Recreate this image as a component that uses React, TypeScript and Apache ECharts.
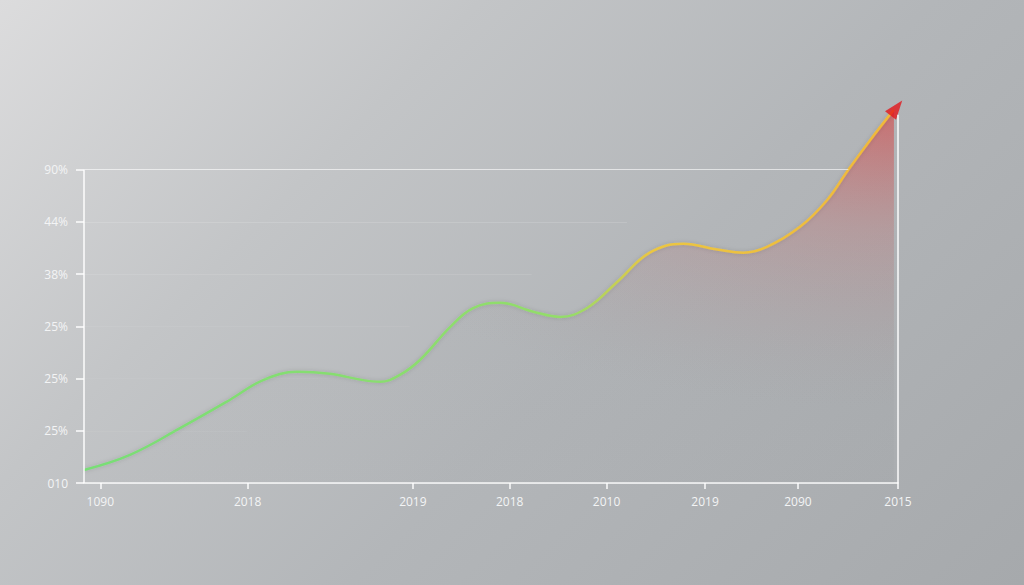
import * as echarts from 'echarts';
import { useEffect, useRef } from 'react';

// y 轴刻度（按图中原样）
const yTickValues = [0, 1, 2, 3, 4, 5, 6];
const yTickLabels = ['010', '25%', '25%', '25%', '38%', '44%', '90%'];

// x 轴刻度位置不均匀，标签也照抄
const xTickValues = [2, 20.1, 40.4, 52.3, 64.2, 76.3, 87.7, 100];
const xTickLabels = ['1090', '2018', '2019', '2018', '2010', '2019', '2090', '2015'];

// 曲线
const curveX = [
  0, 5.65, 11.8, 17.9, 22.0, 26.2, 30.2, 34.3, 36.4, 38.8, 41.3, 45.0, 47.8, 51.1,
  55.2, 58.5, 61.8, 65.5, 69.5, 73.6, 77.8, 81.0, 83.9, 88.0, 91.3, 93.9, 96.6, 99.5,
];
const curveY = [
  0.25, 0.54, 1.05, 1.59, 1.97, 2.13, 2.09, 1.97, 1.94, 2.07, 2.36, 2.99, 3.35, 3.45,
  3.28, 3.18, 3.35, 3.85, 4.41, 4.58, 4.47, 4.41, 4.52, 4.91, 5.42, 6.0, 6.57, 7.15,
];

const arrowPoint = [99.8, 7.18];

// 网格线：[y 值, 结束 x, 透明度]
const gridLevels = [1, 2, 3, 4, 5, 6];
const gridEnds = [20, 30, 40, 55, 66.7, 93.9];
const gridAlpha = [0.05, 0.04, 0.06, 0.1, 0.14, 0.6];

export default function App() {
  const chartRef = useRef<HTMLDivElement>(null);

  useEffect(() => {
    if (!chartRef.current) return;
    const chart = echarts.init(chartRef.current, undefined, { renderer: 'svg' });

    const points = curveX.map((x, i) => [x, curveY[i]]);
    const labelStyle = {
      color: '#f3f4f5',
      fontSize: 12,
      fontFamily: '"Open Sans", "Noto Sans", sans-serif',
    };
    const white = 'rgba(255,255,255,0.95)';

    const option = {
      animation: false,
      grid: { left: 84, right: 126, top: 107, bottom: 102 },
      xAxis: {
        type: 'value',
        min: 0,
        max: 100,
        axisLine: { show: true, lineStyle: { color: white, width: 1.5 } },
        axisTick: {
          show: true,
          customValues: xTickValues,
          length: 6,
          lineStyle: { color: white, width: 1.5 },
        },
        axisLabel: {
          customValues: xTickValues,
          margin: 12,
          ...labelStyle,
          formatter: (v: number) => xTickLabels[xTickValues.indexOf(v)] ?? '',
        },
        splitLine: { show: false },
      },
      yAxis: {
        type: 'value',
        min: 0,
        max: 7.2,
        axisLine: { show: false },
        axisTick: {
          show: true,
          customValues: yTickValues,
          length: 8,
          lineStyle: { color: white, width: 1.5 },
        },
        axisLabel: {
          customValues: yTickValues,
          margin: 16,
          ...labelStyle,
          formatter: (v: number) => yTickLabels[yTickValues.indexOf(v)] ?? '',
        },
        splitLine: { show: false },
      },
      series: [
        {
          // 底层灰色面积 + 网格线 + 坐标线
          type: 'line',
          data: points,
          smooth: 0.4,
          symbol: 'none',
          z: 1,
          lineStyle: { width: 0 },
          areaStyle: {
            color: new echarts.graphic.LinearGradient(0, 0, 0, 1, [
              { offset: 0, color: 'rgba(90,92,96,0.10)' },
              { offset: 1, color: 'rgba(90,92,96,0.04)' },
            ]),
          },
          markLine: {
            silent: true,
            symbol: ['none', 'none'],
            label: { show: false },
            data: [
              ...gridLevels.map((v, i) => [
                {
                  coord: [0, v],
                  lineStyle: {
                    color: `rgba(255,255,255,${gridAlpha[i]})`,
                    width: 1,
                    type: 'solid',
                  },
                },
                { coord: [gridEnds[i], v] },
              ]),
              [
                { coord: [0, 0], lineStyle: { color: white, width: 1.5, type: 'solid' } },
                { coord: [0, 6] },
              ],
              [
                { coord: [100, 0], lineStyle: { color: white, width: 1.5, type: 'solid' } },
                { coord: [100, 7.05] },
              ],
            ],
          },
        },
        {
          type: 'line',
          data: points,
          smooth: 0.4,
          symbol: 'none',
          z: 2,
          lineStyle: {
            width: 2.5,
            color: new echarts.graphic.LinearGradient(0, 0, 1, 0, [
              { offset: 0, color: '#78de76' },
              { offset: 0.6, color: '#94dc6a' },
              { offset: 0.7, color: '#ebc642' },
              { offset: 1, color: '#f0b83a' },
            ]),
            shadowBlur: 4,
            shadowColor: 'rgba(0,0,0,0.15)',
          },
          areaStyle: {
            color: new echarts.graphic.RadialGradient(1, 0, 0.8, [
              { offset: 0, color: 'rgba(224,60,60,0.8)' },
              { offset: 0.4, color: 'rgba(205,105,105,0.38)' },
              { offset: 1, color: 'rgba(160,150,150,0)' },
            ]),
          },
        },
        {
          type: 'scatter',
          data: [arrowPoint],
          z: 3,
          symbol: 'triangle',
          symbolSize: [14, 19],
          symbolRotate: -38,
          itemStyle: { color: '#e3171c' },
        },
      ],
    };

    chart.setOption(option);
    return () => chart.dispose();
  }, []);

  return (
    <div
      style={{
        position: 'fixed',
        left: 0,
        top: 0,
        width: '100vw',
        height: '100vh',
        background:
          'linear-gradient(135deg, #dcdcdd 0%, #c3c5c7 30%, #b3b6b9 58%, #a6a9ac 100%)',
      }}
    >
      <div ref={chartRef} style={{ width: '100%', height: '100%' }} />
    </div>
  );
}
